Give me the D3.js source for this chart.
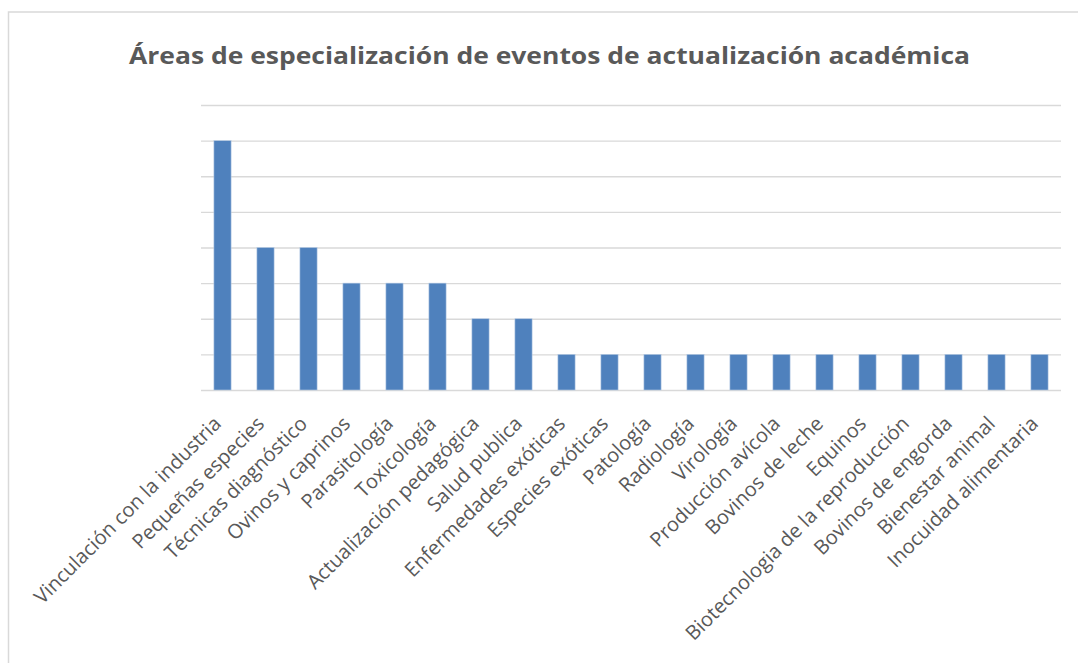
<!DOCTYPE html>
<html>
<head>
<meta charset="utf-8">
<script src="https://cdn.jsdelivr.net/npm/d3@7"></script>
<style>
  body { margin: 0; background: #fff; }
  #chart { width: 1078px; height: 663px; display: block; }
  .title { font-family: "Open Sans", sans-serif; font-weight: bold; fill: #595959; }
  .axis--x text { font-family: "Open Sans", sans-serif; fill: #595959; }
</style>
</head>
<body>
<svg id="chart"></svg>
<script>
var categories = ["Vinculación con la industria", "Pequeñas especies", "Técnicas diagnóstico",
  "Ovinos y caprinos", "Parasitología", "Toxicología", "Actualización pedagógica", "Salud publica",
  "Enfermedades exóticas", "Especies exóticas", "Patología", "Radiología", "Virología",
  "Producción avícola", "Bovinos de leche", "Equinos", "Biotecnologia de la reproducción",
  "Bovinos de engorda", "Bienestar animal", "Inocuidad alimentaria"];
var values = [7, 4, 4, 3, 3, 3, 2, 2, 1, 1, 1, 1, 1, 1, 1, 1, 1, 1, 1, 1];
var yTicks = [0, 1, 2, 3, 4, 5, 6, 7, 8];
var title = "Áreas de especialización de eventos de actualización académica";

var svg = d3.select("#chart"),
    margin = {top: 105, right: 17, bottom: 273, left: 201},
    width = 1078 - margin.left - margin.right,
    height = 663 - margin.top - margin.bottom;

// outer chart border (runs off the right and bottom of the page)
svg.append("rect")
    .attr("x", 8.5).attr("y", 12)
    .attr("width", 1100).attr("height", 700)
    .attr("fill", "none")
    .attr("stroke", "#d9d9d9")
    .attr("stroke-width", 1.5);

svg.append("text")
    .attr("class", "title")
    .attr("x", 549.5).attr("y", 64)
    .attr("text-anchor", "middle")
    .style("font-size", "24px")
    .attr("textLength", 841)
    .attr("lengthAdjust", "spacingAndGlyphs")
    .text(title);

var g = svg.append("g").attr("transform", "translate(" + margin.left + "," + margin.top + ")");

var xScale = d3.scaleBand().domain(categories).range([0, width]).paddingInner(0.6).paddingOuter(0.3),
    yScale = d3.scaleLinear().domain([0, 8]).range([height, 0]);

var yAxis = d3.axisRight(yScale).tickValues(yTicks).tickSize(width).tickFormat("");

g.append("g")
    .attr("class", "axis axis--y")
    .call(yAxis)
    .call(function(a) {
      a.select(".domain").remove();
      a.selectAll(".tick line").attr("stroke", "#d9d9d9").attr("stroke-width", 1.3);
    });

g.selectAll(".bar")
  .data(values)
  .enter().append("rect")
    .attr("class", "bar")
    .attr("x", function(d, i) { return xScale(categories[i]); })
    .attr("y", function(d) { return yScale(d); })
    .attr("width", xScale.bandwidth())
    .attr("height", function(d) { return height - yScale(d); })
    .attr("fill", "#4f81bd")
    .attr("stroke", "#b9cde5")
    .attr("stroke-width", 0.6);

var xAxis = d3.axisBottom(xScale).tickSize(0).tickPadding(0);

g.append("g")
    .attr("class", "axis axis--x")
    .attr("transform", "translate(0," + height + ")")
    .call(xAxis)
    .call(function(a) {
      a.select(".domain").remove();
      a.selectAll(".tick text")
        .style("font-size", "20px")
        .attr("text-anchor", "end")
        .attr("x", 0).attr("y", 0)
        .attr("dy", "0.35em")
        .attr("transform", "translate(-5,30) rotate(-45)");
    });
</script>
</body>
</html>
